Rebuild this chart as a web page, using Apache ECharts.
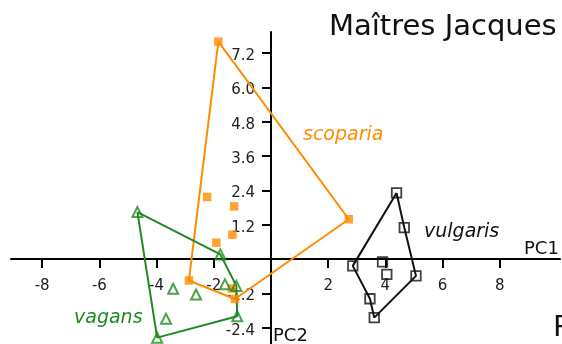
<!DOCTYPE html>
<html>
<head>
<meta charset="utf-8">
<script src="https://cdn.jsdelivr.net/npm/echarts@6/dist/echarts.min.js"></script>
<style>
  html, body { margin: 0; padding: 0; background: #fff; }
  #chart { width: 562px; height: 344px; }
</style>
</head>
<body>
<div id="chart"></div>
<script>
// PCA scores (PC1, PC2) for the three groups
const scopariaPoints = [
  [-1.84, 7.60], [2.72, 1.39], [-1.26, -1.40], [-2.87, -0.75],
  [-2.23, 2.17], [-1.29, 1.84], [-1.35, 0.85], [-1.91, 0.57], [-1.37, -1.03]
];
const vagansPoints = [
  [-4.67, 1.64], [-1.77, 0.16], [-1.21, -0.94], [-1.18, -2.00], [-3.98, -2.75],
  [-3.42, -1.04], [-2.62, -1.24], [-3.67, -2.09], [-1.61, -0.88]
];
const vulgarisPoints = [
  [4.39, 2.31], [4.66, 1.10], [5.07, -0.59], [3.61, -2.05],
  [3.46, -1.39], [2.86, -0.24], [3.90, -0.10], [4.05, -0.54]
];

// Convex hull outlines, as indices into each point list (closed)
const scopariaHull = [0, 1, 2, 3, 0];
const vagansHull = [0, 1, 2, 3, 4, 0];
const vulgarisHull = [0, 1, 2, 3, 4, 5, 0];

// Axis tick positions
const pc1Ticks = [-8, -6, -4, -2, 2, 4, 6, 8];
const pc2Ticks = [-2.4, -1.2, 1.2, 2.4, 3.6, 4.8, 6.0, 7.2];

const ORANGE = '#ff8c00';
const GREEN = '#1f8a1f';
const BLACK = '#111111';
const FONT = 'DejaVu Sans';

// Plot area and visible ranges
const GRID = { left: 11, right: 2, top: 32, bottom: 0 };
const W = 562, H = 344;
const X_RANGE = [-9.09, 10.105];
const Y_RANGE = [-2.972, 7.937];

// Shift each axis so that it crosses the other one at zero
const gridW = W - GRID.left - GRID.right;
const gridH = H - GRID.top - GRID.bottom;
const yAxisShift = -((0 - X_RANGE[0]) / (X_RANGE[1] - X_RANGE[0])) * gridW;
const xAxisShift = -((0 - Y_RANGE[0]) / (Y_RANGE[1] - Y_RANGE[0])) * gridH;

function hullData(points, order) {
  return order.map(i => points[i]);
}

function hullSeries(points, order, color) {
  return {
    type: 'line',
    data: hullData(points, order),
    showSymbol: false,
    symbol: 'none',
    silent: true,
    z: 1,
    lineStyle: { color: color, width: 2 }
  };
}

function label(text, left, top, size, color, italic) {
  return {
    type: 'text', left: left, top: top, z: 10,
    style: {
      text: text, fill: color, fontSize: size, fontFamily: FONT,
      fontStyle: italic ? 'italic' : 'normal'
    }
  };
}

const chart = echarts.init(document.getElementById('chart'), null, { renderer: 'canvas' });

const axisLineStyle = { onZero: false, lineStyle: { color: '#000', width: 2 } };
const tickStyle = { length: 9, lineStyle: { color: '#000', width: 2 } };

chart.setOption({
  animation: false,
  backgroundColor: '#ffffff',
  grid: Object.assign({ containLabel: false, outerBoundsMode: 'none' }, GRID),
  xAxis: {
    type: 'value', position: 'bottom', offset: xAxisShift,
    min: X_RANGE[0], max: X_RANGE[1],
    splitLine: { show: false },
    axisLine: axisLineStyle,
    axisTick: Object.assign({ customValues: pc1Ticks }, tickStyle),
    axisLabel: {
      customValues: pc1Ticks,
      margin: 20,
      fontFamily: FONT, fontSize: 15, color: '#222'
    }
  },
  yAxis: {
    type: 'value', position: 'left', offset: yAxisShift,
    min: Y_RANGE[0], max: Y_RANGE[1],
    splitLine: { show: false },
    axisLine: axisLineStyle,
    axisTick: Object.assign({ customValues: pc2Ticks }, tickStyle),
    axisLabel: {
      customValues: pc2Ticks,
      margin: 16,
      fontFamily: FONT, fontSize: 15, color: '#222',
      formatter: v => '{v|' + v.toFixed(1) + '}',
      rich: {
        v: { fontFamily: FONT, fontSize: 15, color: '#222', padding: [6, 0, 0, 0] }
      }
    }
  },
  series: [
    hullSeries(scopariaPoints, scopariaHull, ORANGE),
    hullSeries(vagansPoints, vagansHull, GREEN),
    hullSeries(vulgarisPoints, vulgarisHull, BLACK),
    {
      type: 'scatter', data: scopariaPoints, symbol: 'rect', symbolSize: 8.5, z: 3,
      itemStyle: { color: ORANGE }
    },
    {
      type: 'scatter', data: vagansPoints, symbol: 'triangle', symbolSize: 10, z: 3,
      itemStyle: { color: 'rgba(255,255,255,0)', borderColor: GREEN, borderWidth: 2 }
    },
    {
      type: 'scatter', data: vulgarisPoints, symbol: 'rect', symbolSize: 9.5, z: 3,
      itemStyle: { color: 'rgba(255,255,255,0)', borderColor: BLACK, borderWidth: 1.8 }
    }
  ],
  graphic: [
    label('Maîtres Jacques', 329, 13, 29, '#111', false),
    label('P', 553, 314, 29, '#111', false),
    label('PC1', 524, 240, 18, '#111', false),
    label('PC2', 273, 327, 18, '#111', false),
    label('scoparia', 303, 126, 19, ORANGE, true),
    label('vulgaris', 424, 223, 19, '#111', true),
    label('vagans', 74, 309, 19, GREEN, true)
  ]
});
</script>
</body>
</html>
